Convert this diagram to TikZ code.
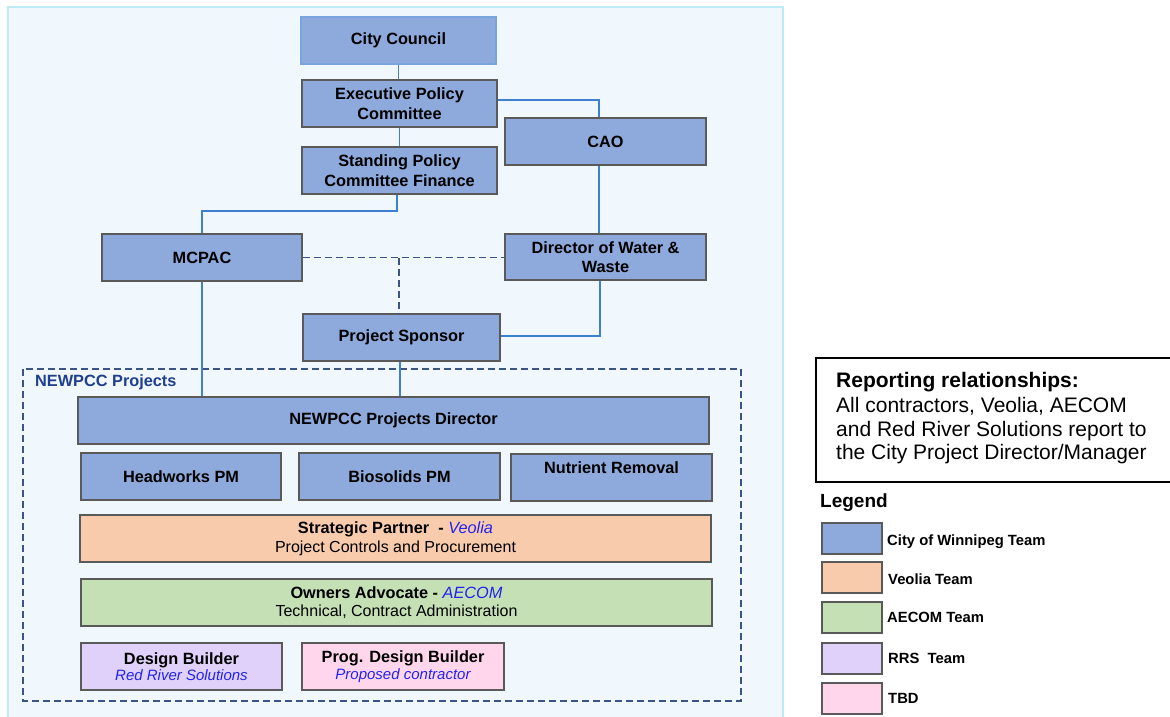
\documentclass[tikz,border=0pt]{standalone}
\usepackage{fontspec}
\setmainfont{Liberation Sans}
\definecolor{cityblue}{HTML}{8EA9DB}
\definecolor{peach}{HTML}{F8CBAD}
\definecolor{lgreen}{HTML}{C5E0B4}
\definecolor{lav}{HTML}{E0D1FA}
\definecolor{lpink}{HTML}{FFD6EC}
\definecolor{panelbg}{HTML}{F0F7FD}
\definecolor{panelbd}{HTML}{BEEAF6}
\definecolor{conn}{HTML}{3F7FD0}
\definecolor{dash}{HTML}{3A5585}
\definecolor{boxbd}{HTML}{5A5A5A}
\definecolor{itblue}{HTML}{2222F0}
\definecolor{navy}{HTML}{1F3F8F}
\begin{document}
\begin{tikzpicture}[x=1pt,y=-1pt,
  bx/.style={draw=boxbd, line width=1.2pt, rectangle, inner sep=0pt, align=center,
    font=\fontsize{16.3}{19.5}\selectfont\bfseries},
  city/.style={bx, fill=cityblue},
  conline/.style={draw=conn, line width=1.4pt},
  dashline/.style={draw=dash, line width=1.8pt, dash pattern=on 7pt off 4pt},
  swatch/.style={draw=boxbd, line width=1.2pt, rectangle, minimum width=60pt, minimum height=31pt, inner sep=0pt},
  leglabel/.style={anchor=west, inner sep=0pt, font=\fontsize{14.8}{17}\selectfont\bfseries}
]
\useasboundingbox (0,0) rectangle (1170,717);
\fill[white] (0,0) rectangle (1170,717);
% panel
\fill[panelbg] (8,7) rectangle (783,717);
\draw[panelbd, line width=1.2pt] (8,717) -- (8,7) -- (783,7) -- (783,717);

% top nodes
\node[city, draw=conn!70, minimum width=195pt, minimum height=47pt] (cc) at (398.5,40.5) {City Council};
\node[city, minimum width=195pt, minimum height=47pt] (epc) at (399.5,103.5) {Executive Policy\\Committee};
\node[city, minimum width=195pt, minimum height=47pt] (spc) at (399.5,170.5) {Standing Policy\\Committee Finance};
\node[city, minimum width=201pt, minimum height=47pt] (cao) at (605.5,141.5) {CAO};
\node[city, minimum width=200pt, minimum height=47pt] (mcpac) at (202,257.5) {MCPAC};
\node[city, minimum width=201pt, minimum height=46pt] (dww) at (605.5,257) {Director of Water \&\\Waste};
\node[city, minimum width=197pt, minimum height=47pt] (ps) at (401.5,337.5) {Project Sponsor};

% dashed NEWPCC group
\draw[dashline] (23,369) rectangle (741,701);
\node[anchor=west, inner sep=0pt, text=navy, font=\fontsize{16.3}{19}\selectfont\bfseries] (grp) at (35,382) {NEWPCC Projects};

\node[city, minimum width=631pt, minimum height=47pt] (dir) at (393.5,420.5) {NEWPCC Projects Director};
\node[city, minimum width=200pt, minimum height=47pt] (hw) at (181,476.5) {Headworks PM};
\node[city, minimum width=201pt, minimum height=47pt] (bio) at (399.5,476.5) {Biosolids PM};
\node[city, minimum width=201pt, minimum height=47pt] (nut) at (611.5,477.5) {};
\node[anchor=center, inner sep=0pt, font=\fontsize{16.3}{19.5}\selectfont\bfseries] (nutl) at (611.5,467.5) {Nutrient Removal};

\node[bx, fill=peach, minimum width=631pt, minimum height=47pt] (sp) at (395.5,538.5)
  {Strategic Partner \ - {\mdseries\itshape\color{itblue}Veolia}\\[-1pt]{\mdseries\fontsize{16}{19}\selectfont Project Controls and Procurement}};
\node[bx, fill=lgreen, minimum width=631pt, minimum height=47pt] (oa) at (396.5,602.5)
  {Owners Advocate - {\mdseries\itshape\color{itblue}AECOM}\\[-1pt]{\mdseries\fontsize{16}{19}\selectfont Technical, Contract Administration}};
\node[bx, fill=lav, minimum width=201pt, minimum height=47pt] (db) at (181.5,666.5)
  {Design Builder\\[-3pt]{\mdseries\itshape\color{itblue}\fontsize{15}{18}\selectfont Red River Solutions}};
\node[bx, fill=lpink, minimum width=202pt, minimum height=47pt] (pdb) at (403,666.5)
  {Prog. Design Builder\\[-3pt]{\mdseries\itshape\color{itblue}\fontsize{15}{18}\selectfont Proposed contractor}};

% connectors
\draw[conline] (cc.south) -- (epc.north -| cc.south);
\draw[conline] (epc.south) -- (spc.north);
\draw[conline] (epc.east |- 0,100) -| (cao.north -| 599,0);
\draw[conline] (cao.south -| 599,0) -- (dww.north -| 599,0);
\draw[conline] (spc.south -| 397,0) -- (397,211) -| (mcpac.north);
\draw[conline] (dww.south -| 600,0) |- (ps.east |- 0,336);
\draw[conline] (mcpac.south) -- (dir.north -| mcpac.south);
\draw[conline] (ps.south -| 400,0) -- (dir.north -| 400,0);
\draw[dashline] (mcpac.east) -- (dww.west |- mcpac.east);
\coordinate (dj) at (399,258);
\draw[dashline] (dj) -- (ps.north -| dj);

% reporting box
\node[draw=black, line width=1.8pt, rectangle, anchor=north west, minimum width=357pt, minimum height=124pt, inner sep=0pt] (rep) at (815,357) {};
\node[anchor=north west, inner sep=0pt, align=left, font=\fontsize{21}{23.5}\selectfont] (reptxt) at (836,372)
  {\textbf{Reporting relationships:}\\[2pt]All contractors, Veolia, AECOM\\and Red River Solutions report to\\the City Project Director/Manager};

% legend
\node[anchor=west, inner sep=0pt, font=\fontsize{19}{22}\selectfont\bfseries] (leg) at (820,503) {Legend};
\node[swatch, fill=cityblue] (s1) at (852,538.5) {};
\node[swatch, fill=peach] (s2) at (852,577.5) {};
\node[swatch, fill=lgreen] (s3) at (852,617.5) {};
\node[swatch, fill=lav] (s4) at (852,658.5) {};
\node[swatch, fill=lpink] (s5) at (852,698.5) {};
\node[leglabel] (l1) at (887,542) {City of Winnipeg Team};
\node[leglabel] (l2) at (888,579) {Veolia Team};
\node[leglabel] (l3) at (887,617) {AECOM Team};
\node[leglabel] (l4) at (888,658) {RRS \ Team};
\node[leglabel] (l5) at (888,698) {TBD};
\end{tikzpicture}
\end{document}
